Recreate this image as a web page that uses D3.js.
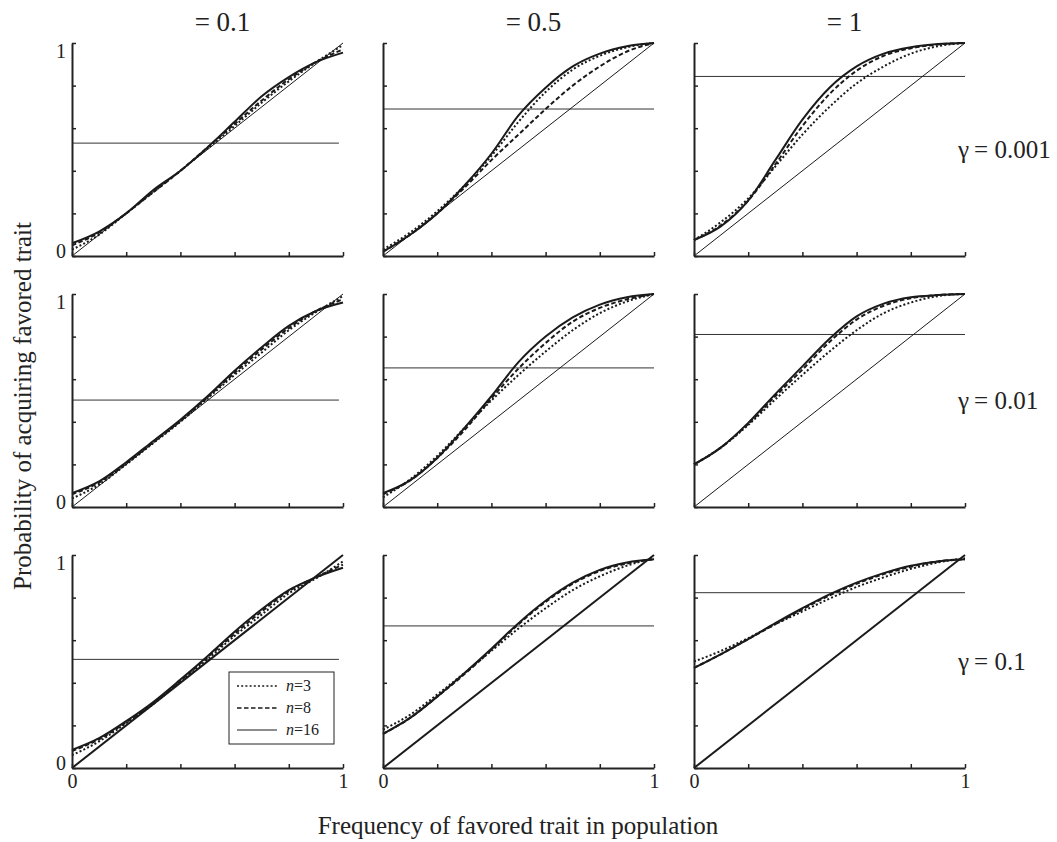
<!DOCTYPE html>
<html lang="en">
<head>
  <meta charset="UTF-8">
  <title>Probability of acquiring favored trait</title>
  <script src="https://cdn.jsdelivr.net/npm/d3@7"></script>
  <style>
    body { margin: 0; background: #fff; }
    svg, svg text { font-family: "Liberation Serif", "Times New Roman", serif !important; }
    svg text { fill: #222; }
    .axis path, .axis line { stroke: #222; }
    .axis path { stroke-width: 2px; }
    .axis line { stroke-width: 1.5px; }
    .curve { fill: none; stroke: #1a1a1a; }
  </style>
</head>
<body>
  <script>
    const freq = [0, 0.1, 0.2, 0.3, 0.4, 0.5, 0.6, 0.7, 0.8, 0.9, 1];
    const colTitles = ['= 0.1', '= 0.5', '= 1'];
    const rowLabels = ['\u03b3\u2009= 0.001', '\u03b3\u2009= 0.01', '\u03b3\u2009= 0.1'];
    const tickVals = [0, 0.2, 0.4, 0.6, 0.8, 1];

    // curves per row (gamma) then column
    const n3 = [
      [[0.03, 0.10, 0.20, 0.30, 0.40, 0.505, 0.61, 0.72, 0.82, 0.91, 0.99],
       [0.03, 0.11, 0.21, 0.33, 0.47, 0.63, 0.77, 0.875, 0.94, 0.98, 1.0],
       [0.075, 0.16, 0.27, 0.42, 0.57, 0.70, 0.81, 0.89, 0.95, 0.985, 1.0]],
      [[0.04, 0.105, 0.20, 0.30, 0.40, 0.51, 0.62, 0.725, 0.83, 0.915, 0.99],
       [0.045, 0.13, 0.24, 0.37, 0.50, 0.62, 0.73, 0.83, 0.91, 0.965, 1.0],
       [0.20, 0.28, 0.385, 0.505, 0.62, 0.73, 0.83, 0.91, 0.96, 0.99, 1.0]],
      [[0.06, 0.125, 0.21, 0.30, 0.405, 0.51, 0.62, 0.72, 0.82, 0.89, 0.97],
       [0.18, 0.25, 0.345, 0.445, 0.55, 0.655, 0.75, 0.835, 0.90, 0.95, 0.985],
       [0.50, 0.55, 0.61, 0.675, 0.735, 0.795, 0.85, 0.895, 0.935, 0.965, 0.985]]
    ];
    const n8 = [
      [[0.05, 0.11, 0.20, 0.30, 0.40, 0.51, 0.62, 0.73, 0.83, 0.91, 0.97],
       [0.02, 0.10, 0.20, 0.32, 0.45, 0.57, 0.69, 0.80, 0.89, 0.96, 1.0],
       [0.075, 0.145, 0.26, 0.43, 0.61, 0.76, 0.87, 0.94, 0.975, 0.993, 1.0]],
      [[0.06, 0.115, 0.205, 0.305, 0.405, 0.515, 0.63, 0.74, 0.84, 0.92, 0.975],
       [0.06, 0.125, 0.23, 0.36, 0.51, 0.65, 0.77, 0.87, 0.935, 0.975, 1.0],
       [0.20, 0.28, 0.39, 0.52, 0.645, 0.775, 0.88, 0.945, 0.98, 0.995, 1.0]],
      [[0.08, 0.135, 0.215, 0.305, 0.41, 0.52, 0.63, 0.735, 0.83, 0.895, 0.955],
       [0.16, 0.235, 0.335, 0.44, 0.555, 0.675, 0.78, 0.865, 0.925, 0.96, 0.98],
       [0.47, 0.535, 0.605, 0.675, 0.745, 0.81, 0.865, 0.91, 0.945, 0.97, 0.98]]
    ];
    const n16 = [
      [[0.06, 0.115, 0.20, 0.31, 0.40, 0.51, 0.63, 0.75, 0.84, 0.91, 0.955],
       [0.02, 0.10, 0.20, 0.33, 0.48, 0.66, 0.79, 0.89, 0.95, 0.985, 1.0],
       [0.075, 0.14, 0.26, 0.45, 0.64, 0.79, 0.89, 0.95, 0.98, 0.995, 1.0]],
      [[0.065, 0.12, 0.21, 0.31, 0.41, 0.52, 0.64, 0.75, 0.85, 0.92, 0.96],
       [0.065, 0.125, 0.23, 0.37, 0.52, 0.68, 0.80, 0.89, 0.95, 0.985, 1.0],
       [0.20, 0.28, 0.395, 0.53, 0.66, 0.79, 0.895, 0.955, 0.985, 0.995, 1.0]],
      [[0.085, 0.14, 0.22, 0.31, 0.415, 0.525, 0.64, 0.745, 0.835, 0.895, 0.94],
       [0.16, 0.235, 0.335, 0.445, 0.56, 0.68, 0.785, 0.87, 0.93, 0.965, 0.98],
       [0.47, 0.535, 0.605, 0.68, 0.75, 0.815, 0.87, 0.915, 0.95, 0.97, 0.98]]
    ];
    // horizontal reference level in each panel
    const flatLevel = [
      [0.53, 0.69, 0.843],
      [0.502, 0.653, 0.81],
      [0.51, 0.667, 0.823]
    ];
    const legendLabels = ['n=3', 'n=8', 'n=16'];

    const width = 1057, height = 842;
    const colX = [72, 383, 694], rowY = [43, 294, 555];
    const pw = 271, ph = 213;
    const serif = '"Liberation Serif", "Times New Roman", serif';

    const styles = {
      n3: {dash: '2,2.2', w: 2},
      n8: {dash: '4.5,2.5', w: 2},
      n16: {dash: null, w: 2}
    };

    const svg = d3.select('body').append('svg')
      .attr('width', width)
      .attr('height', height)
      .attr('font-family', serif);

    const x = d3.scaleLinear().domain([0, 1]).range([0, pw]);
    const y = d3.scaleLinear().domain([0, 1]).range([ph, 0]);
    const line = d3.line()
      .x(function(d){ return x(d[0]); })
      .y(function(d){ return y(d[1]); })
      .curve(d3.curveMonotoneX);

    for (let r = 0; r < 3; r++) {
      for (let c = 0; c < 3; c++) {
        const g = svg.append('g').attr('transform', 'translate(' + colX[c] + ',' + rowY[r] + ')');

        // horizontal level
        g.append('line')
          .attr('x1', x(0)).attr('x2', x(c === 0 ? 0.985 : 1))
          .attr('y1', y(flatLevel[r][c])).attr('y2', y(flatLevel[r][c]))
          .attr('stroke', '#333').attr('stroke-width', 1);

        // diagonal
        g.append('line')
          .attr('x1', x(0)).attr('y1', y(0))
          .attr('x2', x(1)).attr('y2', y(1))
          .attr('stroke', '#1a1a1a')
          .attr('stroke-width', r === 2 ? 2 : 1);

        const sets = [['n3', n3], ['n8', n8], ['n16', n16]];
        sets.forEach(function(s){
          const st = styles[s[0]];
          const pts = freq.map(function(f, i){ return [f, s[1][r][c][i]]; });
          g.append('path')
            .attr('class', 'curve')
            .attr('d', line(pts))
            .attr('stroke-width', st.w)
            .attr('stroke-dasharray', st.dash);
        });

        const xAxis = d3.axisBottom(x).tickValues(tickVals)
          .tickSize(-4).tickSizeOuter(0).tickPadding(6)
          .tickFormat(function(d){ return (r === 2 && (d === 0 || d === 1)) ? d : ''; });
        const xa = g.append('g').attr('class', 'axis')
          .attr('transform', 'translate(0,' + ph + ')')
          .call(xAxis)
          .attr('font-family', serif).attr('font-size', 20);
        xa.selectAll('text').attr('fill', '#222');

        const yAxis = d3.axisLeft(y).tickValues(tickVals)
          .tickSize(-4).tickSizeOuter(0).tickPadding(6)
          .tickFormat(function(d){ return (c === 0 && (d === 0 || d === 1)) ? d : ''; });
        const ya = g.append('g').attr('class', 'axis').call(yAxis)
          .attr('font-family', serif).attr('font-size', 20);
        ya.selectAll('text').attr('fill', '#222')
          .attr('dy', function(d){ return d === 1 ? '0.7em' : '0.05em'; });
      }
    }

    // column titles
    svg.selectAll('text.coltitle')
      .data(colTitles)
      .enter()
      .append('text')
      .attr('class', 'coltitle')
      .attr('x', function(d, i){ return colX[i] + pw / 2 + 15; })
      .attr('y', 31)
      .attr('text-anchor', 'middle')
      .attr('font-size', 27)
      .text(function(d){ return d; });

    // row labels
    svg.selectAll('text.rowlabel')
      .data(rowLabels)
      .enter()
      .append('text')
      .attr('class', 'rowlabel')
      .attr('x', 958)
      .attr('y', function(d, i){ return rowY[i] + ph / 2 + 8; })
      .attr('font-size', 25)
      .text(function(d){ return d; });

    // axis titles
    svg.append('text')
      .attr('x', 518).attr('y', 834)
      .attr('text-anchor', 'middle')
      .attr('font-size', 25)
      .text('Frequency of favored trait in population');

    svg.append('text')
      .attr('transform', 'translate(31,406) rotate(-90)')
      .attr('text-anchor', 'middle')
      .attr('font-size', 25)
      .text('Probability of acquiring favored trait');

    // legend in the bottom-left panel
    const lg = svg.append('g').attr('transform', 'translate(229,672)');
    lg.append('rect')
      .attr('width', 105).attr('height', 72)
      .attr('fill', '#fff').attr('stroke', '#222').attr('stroke-width', 1);
    const legendStyle = [styles.n3, styles.n8, {dash: null, w: 1}];
    legendLabels.forEach(function(lab, i){
      const yy = 14 + i * 22;
      lg.append('line')
        .attr('x1', 8).attr('x2', 48)
        .attr('y1', yy).attr('y2', yy)
        .attr('stroke', '#1a1a1a')
        .attr('stroke-width', legendStyle[i].w === 1 ? 1 : 1.6)
        .attr('stroke-dasharray', legendStyle[i].dash);
      const t = lg.append('text').attr('x', 57).attr('y', yy + 5).attr('font-size', 16);
      t.append('tspan').attr('font-style', 'italic').text(lab.split('=')[0]);
      t.append('tspan').text('=' + lab.split('=')[1]);
    });
  </script>
</body>
</html>
